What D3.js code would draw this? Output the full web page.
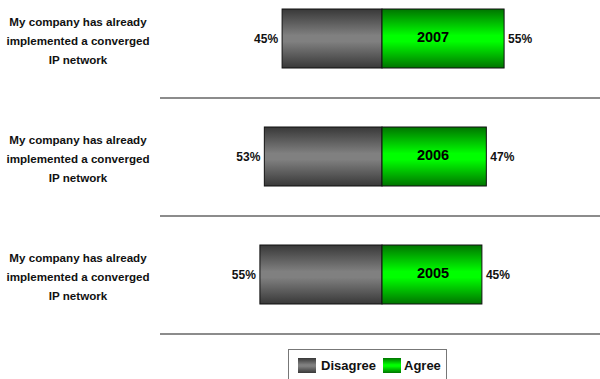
<!DOCTYPE html>
<html><head><meta charset="utf-8">
<script src="https://cdn.jsdelivr.net/npm/d3@7"></script>
<style>body{margin:0;background:#fff}svg{display:block}text{font-family:Arial,"Liberation Sans",sans-serif;font-weight:bold}</style>
</head><body><svg id="c" width="600" height="379"></svg>
<script>
const years = ["2007", "2006", "2005"];
const disagree = [45, 53, 55];
const agree = [55, 47, 45];
const labelLines = ["My company has already", "implemented a converged", "IP network"];
const seriesNames = ["Disagree", "Agree"];

const svg = d3.select("#c");
const defs = svg.append("defs");
function grad(id, edge, mid) {
  const g = defs.append("linearGradient").attr("id", id).attr("x1", 0).attr("y1", 0).attr("x2", 0).attr("y2", 1);
  g.append("stop").attr("offset", "0%").attr("stop-color", edge);
  g.append("stop").attr("offset", "45%").attr("stop-color", mid);
  g.append("stop").attr("offset", "55%").attr("stop-color", mid);
  g.append("stop").attr("offset", "100%").attr("stop-color", edge);
}
grad("gGray", "#383838", "#808080");
grad("gGreen", "#007400", "#00ff00");

const x = d3.scaleLinear().domain([-100, 100]).range([160, 604]);
const y = d3.scaleBand().domain(years).range([-20.5, 333.5]).paddingInner(0.5).paddingOuter(0.25);
const bw = y.bandwidth();
const step = y.step();

const rows = years.map((yr, i) => ({ yr, d: disagree[i], a: agree[i] }));

// separators
svg.selectAll("line.sep").data(rows).join("line")
  .attr("x1", x(-100)).attr("x2", 600)
  .attr("y1", d => y(d.yr) + bw + step * 0.25 + 0.5)
  .attr("y2", d => y(d.yr) + bw + step * 0.25 + 0.5)
  .attr("stroke", "#666").attr("stroke-width", 1.6);

// category labels
rows.forEach(r => {
  const cy = y(r.yr) + bw / 2 + 2;
  const t = svg.append("text").attr("text-anchor", "middle").attr("font-size", 11.6).attr("fill", "#111");
  labelLines.forEach((ln, k) => {
    t.append("tspan").attr("x", 78).attr("y", cy + (k - 1) * 19 + 4).text(ln);
  });
});

// bars
svg.selectAll("rect.dis").data(rows).join("rect")
  .attr("x", d => x(-d.d)).attr("y", d => y(d.yr))
  .attr("width", d => x(0) - x(-d.d)).attr("height", bw)
  .attr("fill", "url(#gGray)").attr("stroke", "#111").attr("stroke-width", 1);
svg.selectAll("rect.agr").data(rows).join("rect")
  .attr("x", x(0)).attr("y", d => y(d.yr))
  .attr("width", d => x(d.a) - x(0)).attr("height", bw)
  .attr("fill", "url(#gGreen)").attr("stroke", "#111").attr("stroke-width", 1);

// value labels
svg.selectAll("text.dl").data(rows).join("text")
  .attr("x", d => x(-d.d) - 4).attr("y", d => y(d.yr) + bw / 2 + 4.5)
  .attr("text-anchor", "end").attr("font-size", 12).attr("fill", "#111")
  .text(d => d.d + "%");
svg.selectAll("text.al").data(rows).join("text")
  .attr("x", d => x(d.a) + 4).attr("y", d => y(d.yr) + bw / 2 + 4.5)
  .attr("text-anchor", "start").attr("font-size", 12).attr("fill", "#111")
  .text(d => d.a + "%");
svg.selectAll("text.yr").data(rows).join("text")
  .attr("x", x(23)).attr("y", d => y(d.yr) + bw / 2 + 3)
  .attr("text-anchor", "middle").attr("font-size", 14.5).attr("fill", "#000")
  .text(d => d.yr);

// legend
const lg = svg.append("g");
lg.append("rect").attr("x", 288.5).attr("y", 349.5).attr("width", 158).attr("height", 40)
  .attr("fill", "#fff").attr("stroke", "#777").attr("stroke-width", 1);
const items = [{ n: seriesNames[0], f: "url(#gGray)", sx: 298, tx: 321 }, { n: seriesNames[1], f: "url(#gGreen)", sx: 383, tx: 404 }];
items.forEach(it => {
  lg.append("rect").attr("x", it.sx).attr("y", 358).attr("width", 18).attr("height", 15).attr("fill", it.f);
  lg.append("text").attr("x", it.tx).attr("y", 370).attr("font-size", 13).attr("fill", "#111").text(it.n);
});
</script></body></html>
